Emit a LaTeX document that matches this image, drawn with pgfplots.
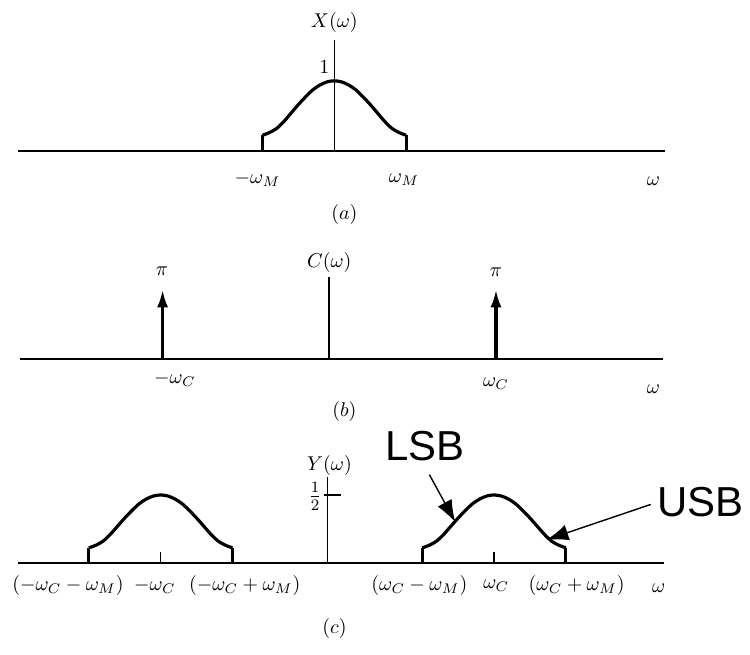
\documentclass[border=0pt]{standalone}
\usepackage{pgfplots}
\pgfplotsset{compat=1.18}
\usepackage{fontspec}
\newfontfamily\labelsans{Liberation Sans}
\usetikzlibrary{arrows.meta}

\pgfplotsset{
  panel/.style={hide axis, clip=false, anchor=south west, x=36pt},
  baseline/.style={black, line width=1pt},
  yline/.style={black, line width=0.8pt},
  band/.style={black, line width=1.6pt, smooth, tension=0.5},
  edge/.style={black, line width=1.6pt},
  impulse/.style={black, line width=1.6pt, -{Latex[length=9pt,width=5.5pt]}},
  pointer/.style={black, line width=0.7pt, -{Latex[length=11pt,width=8pt]}},
}

\begin{document}
\begin{tikzpicture}
\path (0pt,0pt) rectangle (375pt,328pt);

% (a) message spectrum X(omega)
\begin{axis}[panel, at={(0pt,217.5pt)}, y=35pt,
  xmin=-4.653, xmax=5.764, ymin=-1, ymax=2.2]
  \addplot[baseline] coordinates {(-4.4,0) (4.6,0)};
  \addplot[yline] coordinates {(0,0) (0,1.59)};
  \addplot[band] coordinates {
    (-1,0.22) (-0.9,0.26) (-0.8,0.32) (-0.7,0.42) (-0.6,0.54) (-0.5,0.66)
    (-0.4,0.77) (-0.3,0.87) (-0.2,0.94) (-0.1,0.985) (0,1)
    (0.1,0.985) (0.2,0.94) (0.3,0.87) (0.4,0.77) (0.5,0.66) (0.6,0.54)
    (0.7,0.42) (0.8,0.32) (0.9,0.26) (1,0.22)};
  \addplot[edge] coordinates {(-1,0) (-1,0.22)};
  \addplot[edge] coordinates {(1,0) (1,0.22)};
  \node at (axis cs:0,1.84) {$X(\omega)$};
  \node at (axis cs:-0.14,1.19) {$1$};
  \node at (axis cs:-1.07,-0.41) {$-\omega_M$};
  \node at (axis cs:0.97,-0.41) {$\omega_M$};
  \node at (axis cs:4.44,-0.44) {$\omega$};
  \node at (axis cs:0.14,-0.91) {$(a)$};
\end{axis}

% (b) carrier spectrum C(omega)
\begin{axis}[panel, at={(0pt,125.72pt)}, y=11.14pt,
  xmin=-4.583, xmax=5.833, ymin=-2, ymax=5]
  \addplot[baseline] coordinates {(-4.3,0) (4.65,0)};
  \addplot[yline] coordinates {(0,0) (0,3.68)};
  \addplot[impulse] coordinates {(-2.32,0) (-2.32,3.1416)};
  \addplot[impulse] coordinates {(2.32,0) (2.32,3.1416)};
  \node at (axis cs:0,4.35) {$C(\omega)$};
  \node at (axis cs:-2.33,3.95) {$\pi$};
  \node at (axis cs:2.32,3.9) {$\pi$};
  \node at (axis cs:-2.15,-0.9) {$-\omega_C$};
  \node at (axis cs:2.32,-1.12) {$\omega_C$};
  \node at (axis cs:4.51,-1.35) {$\omega$};
  \node at (axis cs:0.21,-2.33) {$(b)$};
\end{axis}

% (c) modulated spectrum Y(omega)
\begin{axis}[panel, at={(0pt,12pt)}, y=68pt,
  xmin=-4.556, xmax=5.861, ymin=-0.5, ymax=0.9]
  \addplot[baseline] coordinates {(-4.3,0) (4.68,0)};
  \addplot[yline] coordinates {(0,0) (0,0.632)};
  \addplot[yline] coordinates {(-0.04,0.5) (0.19,0.5)};
  \addplot[yline] coordinates {(-2.32,0) (-2.32,0.08)};
  \addplot[yline] coordinates {(2.32,0) (2.32,0.08)};
  \addplot[band] coordinates {
    (-3.32,0.11) (-3.22,0.13) (-3.12,0.16) (-3.02,0.21) (-2.92,0.27)
    (-2.82,0.33) (-2.72,0.385) (-2.62,0.435) (-2.52,0.47) (-2.42,0.4925)
    (-2.32,0.5) (-2.22,0.4925) (-2.12,0.47) (-2.02,0.435) (-1.92,0.385)
    (-1.82,0.33) (-1.72,0.27) (-1.62,0.21) (-1.52,0.16) (-1.42,0.13)
    (-1.32,0.11)};
  \addplot[edge] coordinates {(-3.32,0) (-3.32,0.11)};
  \addplot[edge] coordinates {(-1.32,0) (-1.32,0.11)};
  \addplot[band] coordinates {
    (1.32,0.11) (1.42,0.13) (1.52,0.16) (1.62,0.21) (1.72,0.27)
    (1.82,0.33) (1.92,0.385) (2.02,0.435) (2.12,0.47) (2.22,0.4925)
    (2.32,0.5) (2.42,0.4925) (2.52,0.47) (2.62,0.435) (2.72,0.385)
    (2.82,0.33) (2.92,0.27) (3.02,0.21) (3.12,0.16) (3.22,0.13)
    (3.32,0.11)};
  \addplot[edge] coordinates {(1.32,0) (1.32,0.11)};
  \addplot[edge] coordinates {(3.32,0) (3.32,0.11)};
  % sideband pointers
  \addplot[pointer] coordinates {(1.42,0.65) (1.78,0.30)};
  \addplot[pointer] coordinates {(4.5,0.43) (3.05,0.17)};
  \node at (axis cs:0.03,0.72) {$Y(\omega)$};
  \node[font=\large] at (axis cs:-0.17,0.49) {$\frac{1}{2}$};
  \node at (axis cs:-3.61,-0.17) {$(-\omega_C-\omega_M)$};
  \node at (axis cs:-2.40,-0.17) {$-\omega_C$};
  \node at (axis cs:-1.15,-0.17) {$(-\omega_C+\omega_M)$};
  \node at (axis cs:1.28,-0.17) {$(\omega_C-\omega_M)$};
  \node at (axis cs:2.35,-0.17) {$\omega_C$};
  \node at (axis cs:3.47,-0.17) {$(\omega_C+\omega_M)$};
  \node at (axis cs:4.61,-0.19) {$\omega$};
  \node at (axis cs:0.1,-0.485) {$(c)$};
  \node[font=\labelsans\fontsize{21}{25}\selectfont] at (axis cs:1.36,0.86) {LSB};
  \node[font=\labelsans\fontsize{21}{25}\selectfont] at (axis cs:5.19,0.45) {USB};
\end{axis}
\end{tikzpicture}
\end{document}
